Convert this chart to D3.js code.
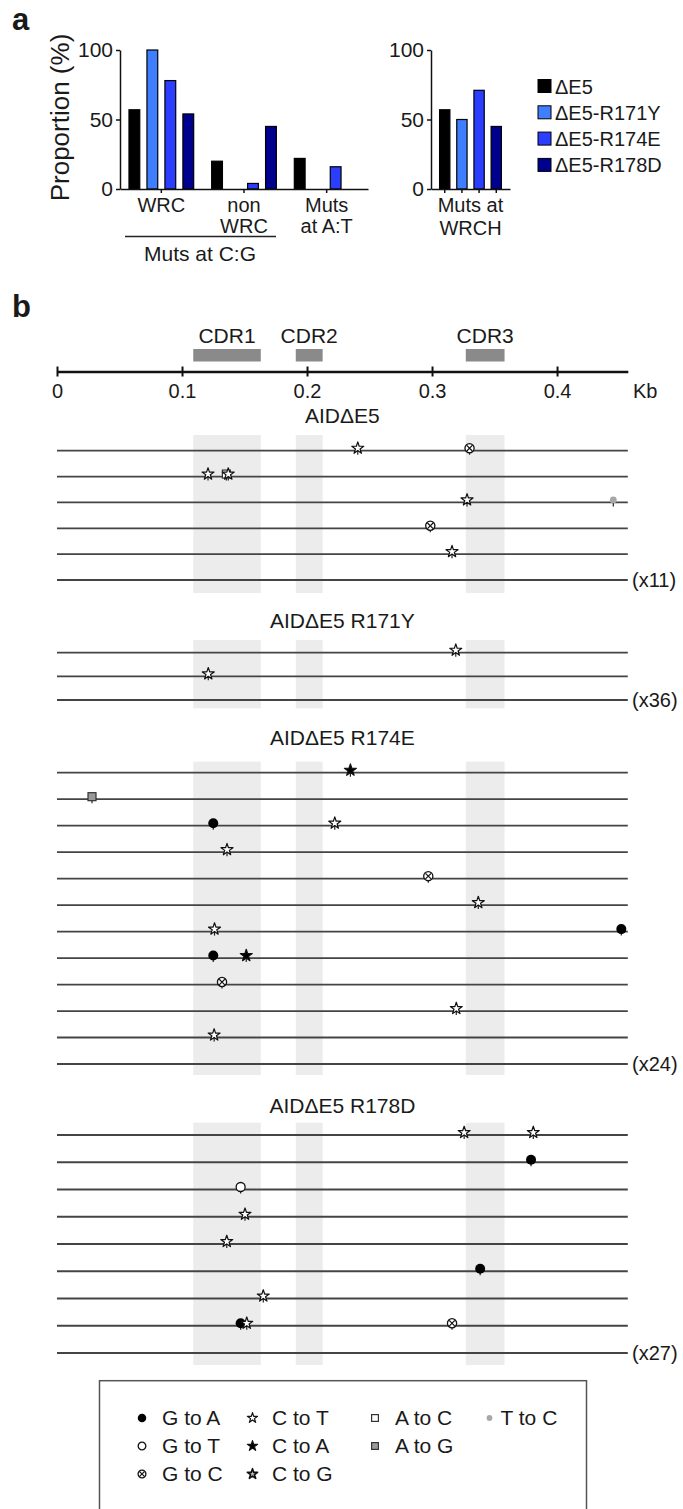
<!DOCTYPE html>
<html>
<head>
<meta charset="utf-8">
<script src="https://cdn.jsdelivr.net/npm/d3@7"></script>
<style>
body { margin: 0; background: #fff; }
text { font-family: "Liberation Sans", Arial, sans-serif; fill: #1a1a1a; }
</style>
</head>
<body>
<svg width="683" height="1509"></svg>
<script>
// ---- panel a data ----
var series = ["ΔE5", "ΔE5-R171Y", "ΔE5-R174E", "ΔE5-R178D"];
var seriesColors = ["#000000", "#3f7fff", "#2b3dff", "#00008e"];
var groupsLeft = ["WRC", "non WRC", "Muts at A:T"];
var groupLabelLines = [["WRC"], ["non", "WRC"], ["Muts", "at A:T"]];
var wrcVals = [57, 100, 78, 54];
var nonWrcVals = [20, 0, 4, 45];
var atVals = [22, 0, 16, 0];
var wrchVals = [57, 50, 71, 45];
var yTicks = [0, 50, 100];

// ---- panel b data ----
var kbTicks = [0, 0.1, 0.2, 0.3, 0.4];
var cdrNames = ["CDR1", "CDR2", "CDR3"];
var cdrStart = [0.109, 0.191, 0.327];
var cdrEnd = [0.163, 0.2125, 0.358];
var clones = ["AIDΔE5", "AIDΔE5 R171Y", "AIDΔE5 R174E", "AIDΔE5 R178D"];
var cloneRows = [6, 3, 12, 9];
var repeats = ["(x11)", "(x36)", "(x24)", "(x27)"];
// [row, position in Kb, mutation type]
var mutsE5 = [[0, 0.2406, "CT"], [0, 0.330, "GC"], [1, 0.1208, "CT"], [1, 0.1355, "AC"], [1, 0.137, "CT"],
              [2, 0.328, "CT"], [2, 0.445, "TC"], [3, 0.2986, "GC"], [4, 0.316, "CT"]];
var mutsR171Y = [[0, 0.319, "CT"], [1, 0.121, "CT"]];
var mutsR174E = [[0, 0.2347, "CA"], [1, 0.028, "AG"], [2, 0.125, "GA"], [2, 0.2222, "CT"], [3, 0.136, "CT"],
                 [4, 0.297, "GC"], [5, 0.337, "CT"], [6, 0.126, "CT"], [6, 0.4514, "GA"], [7, 0.125, "GA"],
                 [7, 0.1514, "CA"], [8, 0.132, "GC"], [9, 0.3194, "CT"], [10, 0.1257, "CT"]];
var mutsR178D = [[0, 0.3257, "CT"], [0, 0.381, "CT"], [1, 0.3792, "GA"], [2, 0.1469, "GT"], [3, 0.1504, "CT"],
                 [4, 0.1358, "CT"], [5, 0.3385, "GA"], [6, 0.165, "CT"], [7, 0.1469, "GA"], [7, 0.1518, "CT"],
                 [7, 0.316, "GC"]];
var legendGroups = [["GA", "GT", "GC"], ["CT", "CA", "CG"], ["AC", "AG"], ["TC"]];
var mutLabels = {GA: "G to A", GT: "G to T", GC: "G to C", CT: "C to T", CA: "C to A",
                 CG: "C to G", AC: "A to C", AG: "A to G", TC: "T to C"};

var svg = d3.select("svg");

// ================= panel a =================
svg.append("text").attr("x", 12).attr("y", 30)
    .style("font-size", "31px").style("font-weight", "bold").text("a");
svg.append("text").attr("x", 12).attr("y", 317)
    .style("font-size", "31px").style("font-weight", "bold").text("b");

var y = d3.scaleLinear().domain([0, 100]).range([189, 50]);

svg.append("text")
    .attr("transform", "translate(69,117.5) rotate(-90)")
    .attr("text-anchor", "middle")
    .style("font-size", "26px")
    .text("Proportion (%)");

function styleAxis(g) {
  g.selectAll("path,line").attr("stroke", "#111").attr("stroke-width", 1.5);
  g.selectAll("text").style("font-size", "21px").attr("fill", "#1a1a1a")
      .style("font-family", '"Liberation Sans", Arial, sans-serif');
}

// left chart
var xg = d3.scaleBand().domain(groupsLeft).range([120, 368]);
var sub = d3.scaleBand().domain(series).range([0, xg.bandwidth()]).paddingInner(0.4).paddingOuter(0.5);
var leftVals = [wrcVals, nonWrcVals, atVals];

svg.append("g").attr("transform", "translate(120,0)")
    .call(d3.axisLeft(y).tickValues(yTicks).tickSize(4).tickSizeOuter(0).tickPadding(3))
    .call(styleAxis);

leftVals.forEach(function(vals, gi) {
  svg.append("g").selectAll("rect").data(vals).enter().append("rect")
      .attr("x", function(d, i) { return xg(groupsLeft[gi]) + sub(series[i]); })
      .attr("width", sub.bandwidth())
      .attr("y", function(d) { return y(d); })
      .attr("height", function(d) { return y(0) - y(d); })
      .attr("fill", function(d, i) { return seriesColors[i]; })
      .attr("stroke", "#000").attr("stroke-width", 1.2)
      .style("display", function(d) { return d > 0 ? null : "none"; });
});

svg.append("g").attr("transform", "translate(0,189)")
    .call(d3.axisBottom(xg).tickSize(4).tickSizeOuter(0).tickFormat(""))
    .call(styleAxis);

groupLabelLines.forEach(function(lines, gi) {
  lines.forEach(function(t, li) {
    svg.append("text")
        .attr("x", xg(groupsLeft[gi]) + xg.bandwidth() / 2)
        .attr("y", 212 + li * 21)
        .attr("text-anchor", "middle")
        .style("font-size", "20px")
        .text(t);
  });
});

svg.append("line").attr("x1", 125).attr("x2", 276).attr("y1", 236.5).attr("y2", 236.5)
    .attr("stroke", "#222").attr("stroke-width", 1.5);
svg.append("text").attr("x", 200).attr("y", 261).attr("text-anchor", "middle")
    .style("font-size", "21px").text("Muts at C:G");

// right chart
var xr = d3.scaleBand().domain(series).range([0, 79]).paddingInner(0.4).paddingOuter(0.5);

svg.append("g").attr("transform", "translate(431,0)")
    .call(d3.axisLeft(y).tickValues(yTicks).tickSize(4).tickSizeOuter(0).tickPadding(3))
    .call(styleAxis);

svg.append("g").attr("transform", "translate(431,0)")
  .selectAll("rect").data(wrchVals).enter().append("rect")
    .attr("x", function(d, i) { return xr(series[i]); })
    .attr("width", xr.bandwidth())
    .attr("y", function(d) { return y(d); })
    .attr("height", function(d) { return y(0) - y(d); })
    .attr("fill", function(d, i) { return seriesColors[i]; })
    .attr("stroke", "#000").attr("stroke-width", 1.2);

svg.append("g").attr("transform", "translate(431,189)")
    .call(d3.axisBottom(xr).tickSize(4).tickSizeOuter(0).tickFormat(""))
    .call(styleAxis);

["Muts at", "WRCH"].forEach(function(t, li) {
  svg.append("text").attr("x", 470.5).attr("y", 212 + li * 23)
      .attr("text-anchor", "middle").style("font-size", "20px").text(t);
});

// legend a
var legA = svg.append("g").selectAll("g").data(series).enter().append("g")
    .attr("transform", function(d, i) { return "translate(538," + (86 + i * 26.3) + ")"; });
legA.append("rect").attr("x", 0).attr("y", -6.5).attr("width", 13).attr("height", 13)
    .attr("fill", function(d, i) { return seriesColors[i]; })
    .attr("stroke", "#000").attr("stroke-width", 1);
legA.append("text").attr("x", 17).attr("y", 7.5).style("font-size", "20px")
    .text(function(d) { return d; });

// ================= panel b =================
var kb = d3.scaleLinear().domain([0, 0.4566]).range([57, 627.8]);

var cdr = svg.append("g");
cdrNames.forEach(function(n, i) {
  cdr.append("rect").attr("x", kb(cdrStart[i])).attr("width", kb(cdrEnd[i]) - kb(cdrStart[i]))
      .attr("y", 349).attr("height", 12.5).attr("fill", "#8a8a8a");
  cdr.append("text").attr("x", (kb(cdrStart[i]) + kb(cdrEnd[i])) / 2).attr("y", 343)
      .attr("text-anchor", "middle").style("font-size", "21px").text(n);
});

var kbAxis = svg.append("g").attr("transform", "translate(0,371.5)")
    .call(d3.axisBottom(kb).tickValues(kbTicks).tickSize(0).tickSizeOuter(0).tickPadding(12)
          .tickFormat(d3.format("~g")));
kbAxis.select(".domain").attr("stroke", "#111").attr("stroke-width", 2.5);
kbAxis.selectAll(".tick line").attr("y1", -5).attr("y2", 5).attr("stroke", "#111").attr("stroke-width", 2);
kbAxis.selectAll(".tick text").style("font-size", "20px").attr("fill", "#1a1a1a")
    .style("font-family", '"Liberation Sans", Arial, sans-serif');
svg.append("text").attr("x", 633).attr("y", 398).style("font-size", "20px").text("Kb");

// marker drawing
var starSize = function(R) { return R * R / 0.8908130915292852; };
function drawMark(g, type, x, yy, k) {
  var m = g.append("g").attr("transform", "translate(" + x + "," + yy + ")");
  if (type === "GA") {
    m.append("circle").attr("r", 5 * k).attr("fill", "#000");
  } else if (type === "GT") {
    m.append("circle").attr("r", 4.5 * k).attr("fill", "#fff").attr("stroke", "#111").attr("stroke-width", 1.3);
  } else if (type === "GC") {
    m.append("circle").attr("r", 4.6 * k).attr("fill", "#fff").attr("stroke", "#111").attr("stroke-width", 1.3);
    var a = 2.8 * k;
    m.append("path").attr("d", "M" + -a + "," + -a + "L" + a + "," + a + "M" + a + "," + -a + "L" + -a + "," + a)
        .attr("stroke", "#111").attr("stroke-width", 1.2);
  } else if (type === "CT" || type === "CA" || type === "CG") {
    m.append("path").attr("d", d3.symbol(d3.symbolStar, starSize(6.3 * k))())
        .attr("fill", type === "CA" ? "#000" : (type === "CG" ? "#bbb" : "#fff"))
        .attr("stroke", "#111").attr("stroke-width", type === "CG" ? 1.6 : 1.2)
        .attr("stroke-linejoin", "round");
  } else if (type === "AC" || type === "AG") {
    m.append("rect").attr("x", -4 * k).attr("y", -4 * k).attr("width", 8 * k).attr("height", 8 * k)
        .attr("fill", type === "AG" ? "#9a9a9a" : "#fff").attr("stroke", "#333").attr("stroke-width", 1.2);
  } else if (type === "TC") {
    m.append("circle").attr("r", 3.4 * k).attr("fill", "#a8a8a8");
  }
}

var groupLayout = [
  {title: 423, first: 450.7, last: 580, top: 435, bottom: 593},
  {title: 628, first: 652.7, last: 700, top: 640, bottom: 708.3},
  {title: 745, first: 772.7, last: 1064, top: 761.7, bottom: 1075},
  {title: 1113, first: 1135, last: 1353, top: 1122.7, bottom: 1365}
];
var cloneMuts = [mutsE5, mutsR171Y, mutsR174E, mutsR178D];

clones.forEach(function(name, ci) {
  var L = groupLayout[ci];
  var g = svg.append("g");
  var row = d3.scaleLinear().domain([0, cloneRows[ci] - 1]).range([L.first, L.last]);

  g.append("text").attr("x", (kb.range()[0] + kb.range()[1]) / 2).attr("y", L.title)
      .attr("text-anchor", "middle").style("font-size", "21px").text(name);

  cdrNames.forEach(function(n, i) {
    g.append("rect").attr("x", kb(cdrStart[i])).attr("width", kb(cdrEnd[i]) - kb(cdrStart[i]))
        .attr("y", L.top).attr("height", L.bottom - L.top).attr("fill", "#ececec");
  });

  g.selectAll("line.row").data(d3.range(cloneRows[ci])).enter().append("line")
      .attr("class", "row")
      .attr("x1", kb.range()[0]).attr("x2", kb.range()[1])
      .attr("y1", function(d) { return row(d); }).attr("y2", function(d) { return row(d); })
      .attr("stroke", "#444").attr("stroke-width", 1.8);

  g.append("text").attr("x", 632).attr("y", L.last + 7).style("font-size", "20px").text(repeats[ci]);

  cloneMuts[ci].forEach(function(m) {
    var px = kb(m[1]), py = row(m[0]);
    g.append("line").attr("x1", px).attr("x2", px).attr("y1", py - 2).attr("y2", py + 4)
        .attr("stroke", "#222").attr("stroke-width", 1.2);
    drawMark(g, m[2], px, py - 2.5, 1);
  });
});

// legend b
svg.append("rect").attr("x", 99.5).attr("y", 1380.7).attr("width", 487).attr("height", 160)
    .attr("fill", "none").attr("stroke", "#555").attr("stroke-width", 1.5);
var legColX = [142, 252.5, 375, 489.5];
var legTextDx = [20, 19.5, 20, 11];
legendGroups.forEach(function(col, c) {
  col.forEach(function(t, r) {
    var base = 1425 + r * 28;
    drawMark(svg, t, legColX[c], base - 7, 0.85);
    svg.append("text").attr("x", legColX[c] + legTextDx[c]).attr("y", base)
        .style("font-size", "21px").text(mutLabels[t]);
  });
});
</script>
</body>
</html>
